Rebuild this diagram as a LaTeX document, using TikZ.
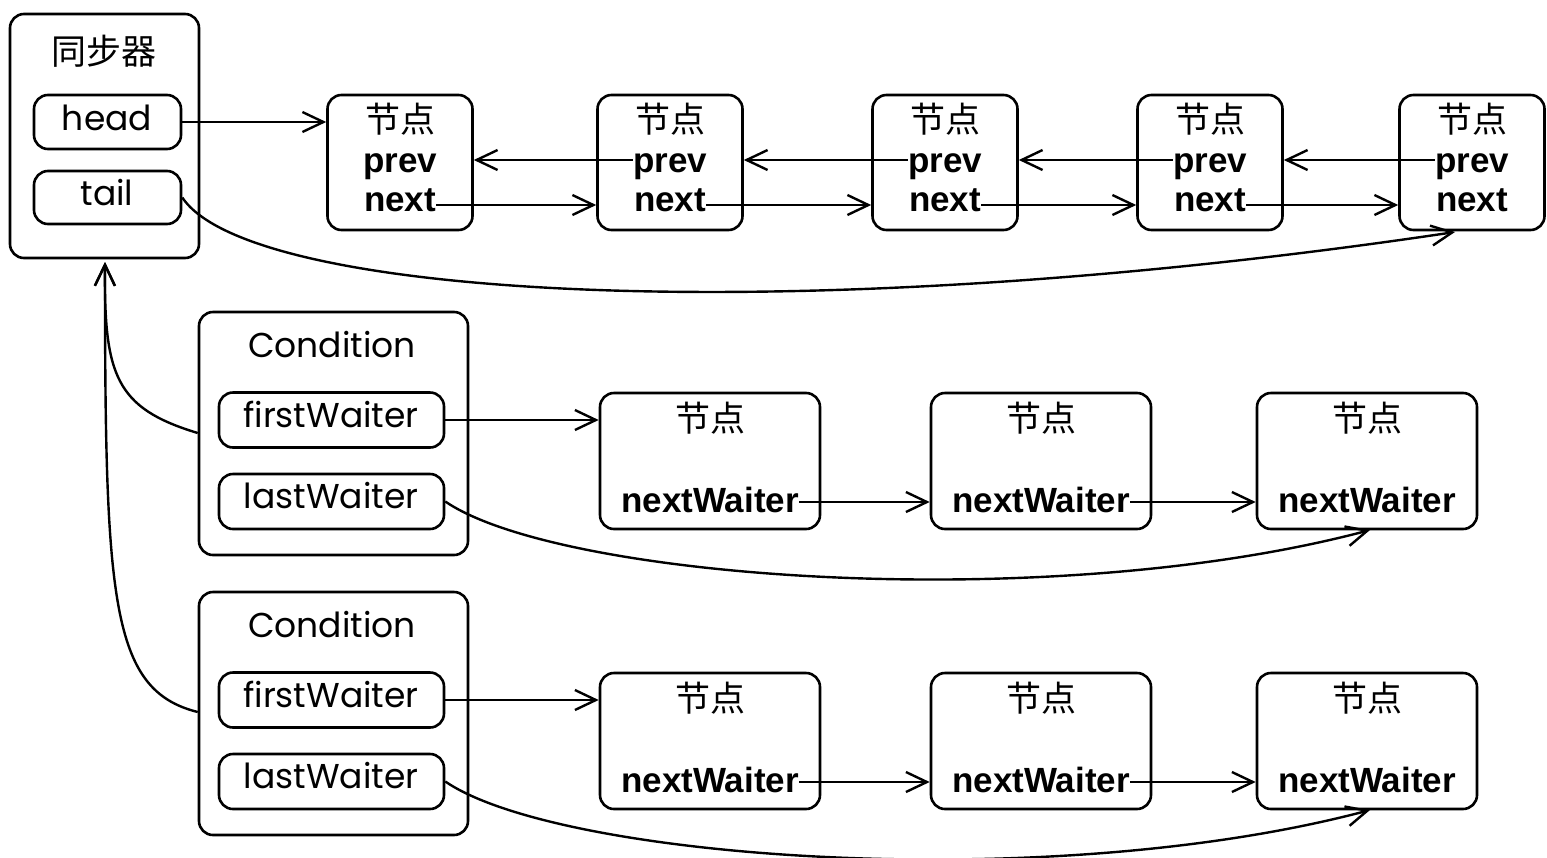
\documentclass[tikz,border=0pt]{standalone}
\usepackage{fontspec}
\setmainfont{Liberation Sans}
\newfontfamily\cjk{Noto Sans CJK SC}
\newfontfamily\geo{Poppins}
\usetikzlibrary{arrows.meta}
\begin{document}
\begin{tikzpicture}[x=1pt,y=-1pt,
  box/.style={draw,line width=2.6pt,rounded corners=14pt,inner sep=0pt},
  bigbox/.style={box,minimum width=145pt,minimum height=135pt},
  wbox/.style={box,minimum width=220pt,minimum height=136pt},
  fbox/.style={box,minimum width=225pt,minimum height=55pt},
  geolbl/.style={font=\fontsize{34.5}{34.5}\selectfont\geo,inner sep=0pt,anchor=base},
  cjklbl/.style={font=\fontsize{35}{35}\selectfont\cjk,inner sep=0pt},
  boldlbl/.style={font=\fontsize{35}{35}\selectfont\bfseries,inner sep=0pt,anchor=base},
  arr/.style={line width=2.4pt,-{Straight Barb[length=21pt,width=20pt]}}
]
\useasboundingbox (0,0) rectangle (1547,857);
% synchroniser
\node[box,minimum width=189pt,minimum height=244pt] (sync) at (104.5,136) {};
\node[cjklbl] (synct) at (104,51) {同步器};
\node[box,minimum width=147pt,minimum height=54pt] (head) at (107.5,122) {};
\node[geolbl] (headt) at (107,130) {head};
\node[box,minimum width=147pt,minimum height=53pt] (tail) at (107.5,197.5) {};
\node[geolbl] (tailt) at (107,205) {tail};
% top row
\foreach \i/\x in {1/400,2/670,3/945,4/1210,5/1472}{
  \node[bigbox] (n\i) at (\x,162.5) {};
  \node[cjklbl] (c\i) at (\x,119) {节点};
  \node[boldlbl] (p\i) at (\x,172) {prev};
  \node[boldlbl] (x\i) at (\x,211) {next};
}
\draw[arr] (head.east) -- (n1.west |- head.east);
\foreach \a/\b in {1/2,2/3,3/4,4/5}{
  \draw[arr] (x\a.east |- 0,205) -- (n\b.west |- 0,205);
  \draw[arr] (p\b.west |- 0,160) -- (n\a.east |- 0,160);
}
\coordinate (t5) at (1455,232);
\draw[arr] (tail.east) .. controls (250,300) and (800,330) .. (t5);
% condition rows
\foreach \r/\dy in {1/0,2/280}{
  \node[box,minimum width=269pt,minimum height=243pt] (cond\r) at (333.5,433.5+\dy) {};
  \node[geolbl] (condt\r) at (332,357+\dy) {Condition};
  \node[fbox] (fw\r) at (331.5,420+\dy) {};
  \node[geolbl] (fwt\r) at (331,427+\dy) {firstWaiter};
  \node[fbox] (lw\r) at (331.5,501.5+\dy) {};
  \node[geolbl] (lwt\r) at (331,508+\dy) {lastWaiter};
  \foreach \j/\x in {1/710,2/1041,3/1367}{
    \node[wbox] (w\r\j) at (\x,461+\dy) {};
    \node[cjklbl] (wc\r\j) at (\x,418+\dy) {节点};
    \node[boldlbl] (wn\r\j) at (\x,512+\dy) {nextWaiter};
  }
  \draw[arr] (fw\r.east) -- (w\r1.west |- fw\r.east);
  \draw[arr] (wn\r1.east |- 0,502+\dy) -- (w\r2.west |- 0,502+\dy);
  \draw[arr] (wn\r2.east |- 0,502+\dy) -- (w\r3.west |- 0,502+\dy);
  \coordinate (e\r) at (1370,530+\dy);
  \draw[arr] (lw\r.east) .. controls (560,580+\dy) and (1050,615+\dy) .. (e\r);
}
\coordinate (sb) at (105,262);
\draw[arr] (cond1.west |- 0,433) .. controls (115,408) and (104,375) .. (sb);
\draw[arr] (cond2.west |- 0,712) .. controls (110,690) and (105,600) .. (sb);
\end{tikzpicture}
\end{document}
